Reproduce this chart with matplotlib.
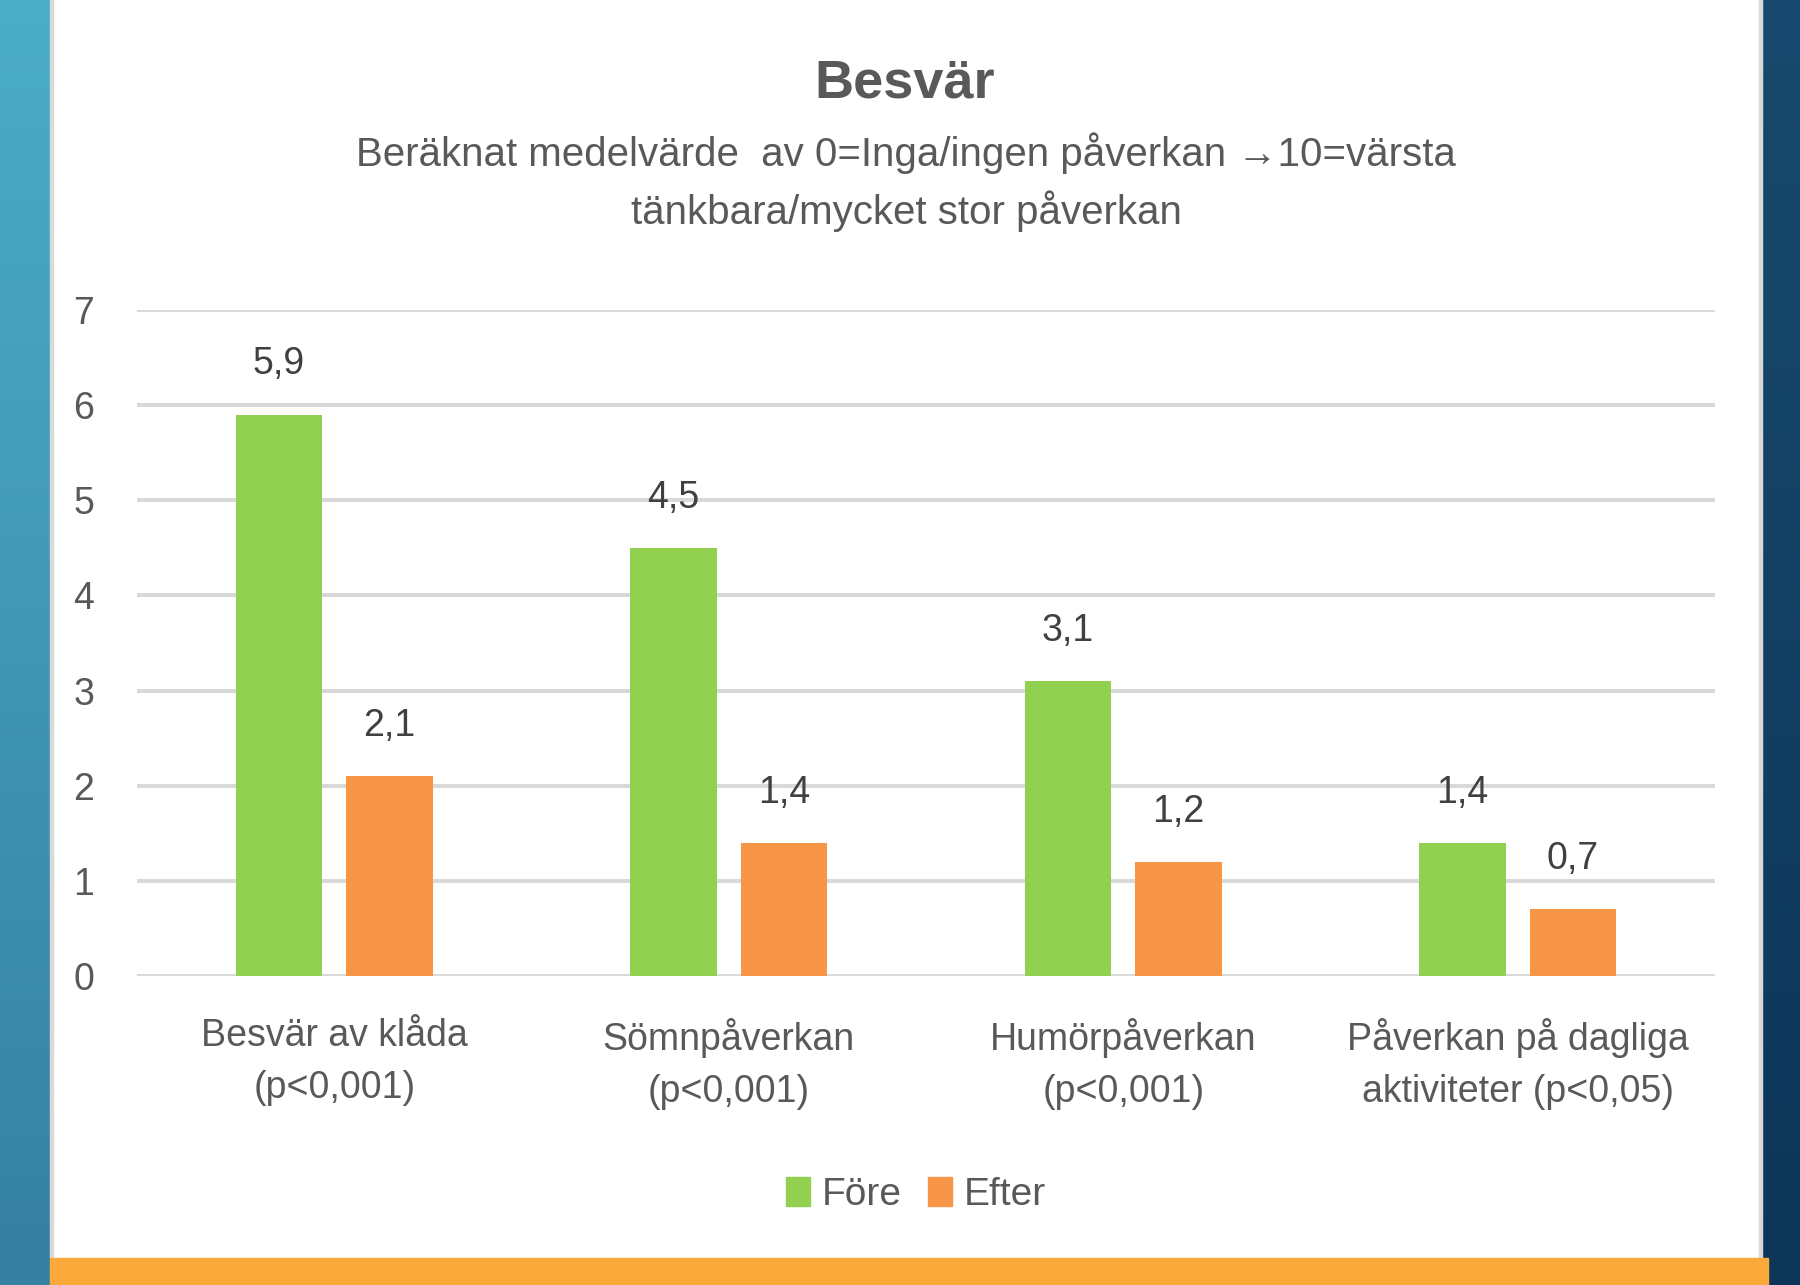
import numpy as np
import matplotlib
matplotlib.use("Agg")
import matplotlib.pyplot as plt
from matplotlib.patches import Rectangle, Patch

# Data
categories = ["Besvär av klåda\n(p<0,001)", "Sömnpåverkan\n(p<0,001)",
              "Humörpåverkan\n(p<0,001)", "Påverkan på dagliga\naktiviteter (p<0,05)"]
fore = [5.9, 4.5, 3.1, 1.4]
efter = [2.1, 1.4, 1.2, 0.7]
fore_labels = ["5,9", "4,5", "3,1", "1,4"]
efter_labels = ["2,1", "1,4", "1,2", "0,7"]
yticks = [0, 1, 2, 3, 4, 5, 6, 7]

GREEN = "#92d050"
ORANGE = "#f79646"
TXT = "#595959"
LBL = "#404040"

plt.rcParams["font.family"] = ["Liberation Sans", "DejaVu Sans"]

W, H = 1800, 1285
fig = plt.figure(figsize=(W / 100, H / 100), dpi=100)
fig.patch.set_facecolor("white")

# frame decoration: gradient strips, grey borders, orange bar
left = fig.add_axes([0, 0, 50 / W, 1])
left.imshow(np.linspace(0, 1, 256).reshape(-1, 1), aspect="auto",
            cmap=matplotlib.colors.LinearSegmentedColormap.from_list("l", ["#4badc7", "#3680a2"]))
left.axis("off")
right = fig.add_axes([1762 / W, 0, 38 / W, 1])
right.imshow(np.linspace(0, 1, 256).reshape(-1, 1), aspect="auto",
             cmap=matplotlib.colors.LinearSegmentedColormap.from_list("r", ["#174a6e", "#0d3558"]))
right.axis("off")
fig.patches.append(Rectangle((50 / W, 27 / H), 3 / W, 1, transform=fig.transFigure,
                             color="#d9d9d9", zorder=5))
fig.patches.append(Rectangle((1759 / W, 27 / H), 3 / W, 1, transform=fig.transFigure,
                             color="#d9d9d9", zorder=5))
fig.patches.append(Rectangle((50 / W, 0), 1718 / W, 27 / H, transform=fig.transFigure,
                             color="#faa93b", zorder=6))

ax = fig.add_axes([137 / W, 309 / H, 1578 / W, 666 / H])
x = np.arange(len(categories))
bw = 0.22
b1 = ax.bar(x - 0.14, fore, bw, color=GREEN, zorder=3)
b2 = ax.bar(x + 0.14, efter, bw, color=ORANGE, zorder=3)

for bars, labs in ((b1, fore_labels), (b2, efter_labels)):
    for rect, lab in zip(bars, labs):
        ax.annotate(lab, (rect.get_x() + rect.get_width() / 2, rect.get_height()),
                    xytext=(0, 29), textcoords="offset points", ha="center",
                    va="baseline", fontsize=27, color=LBL)

ax.set_xlim(-0.5, 3.5)
ax.set_ylim(0, 7)
ax.set_yticks(yticks)
ax.set_xticks(x)
ax.set_xticklabels(categories, linespacing=1.6)
ax.tick_params(axis="both", length=0, labelsize=27, labelcolor=TXT)
ax.tick_params(axis="y", pad=31)
ax.tick_params(axis="x", pad=30)
ax.grid(axis="y", color="#d9d9d9", linewidth=2.9, zorder=0)
ax.set_axisbelow(True)
for s in ax.spines.values():
    s.set_visible(False)

fig.text(905 / W, 1 - 97 / H, "Besvär", ha="center", va="baseline",
         fontsize=39, fontweight="bold", color=TXT)
fig.text(906 / W, 1 - 182 / H,
         "Beräknat medelvärde  av 0=Inga/ingen påverkan →10=värsta\ntänkbara/mycket stor påverkan",
         ha="center", va="center", fontsize=29, color=TXT, linespacing=1.5)

handles = [Patch(color=GREEN, label="Före"), Patch(color=ORANGE, label="Efter")]
fig.legend(handles=handles, loc="center", bbox_to_anchor=(916 / W, 1 - 1195 / H),
           ncol=2, frameon=False, fontsize=28, labelcolor=TXT,
           handlelength=0.6, handleheight=0.75, handletextpad=0.3, columnspacing=0.7)

fig.savefig("out.png", dpi=100)
